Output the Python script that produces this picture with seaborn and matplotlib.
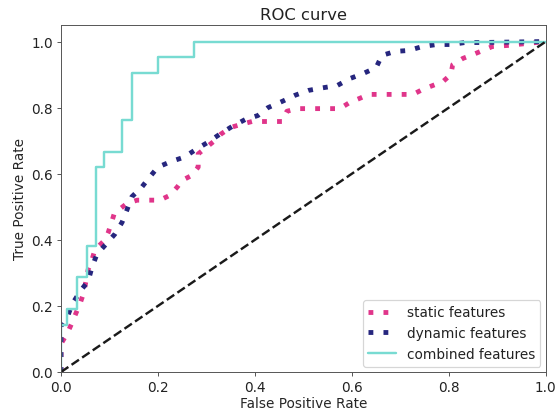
import matplotlib
matplotlib.use("Agg")
import matplotlib.pyplot as plt
import seaborn as sns

# ---- data ----
static_fpr = [0, 0, 0.002, 0.014, 0.023, 0.04, 0.047, 0.056, 0.064, 0.07, 0.091, 0.097,
              0.105, 0.11, 0.136, 0.157, 0.177, 0.204, 0.225, 0.24, 0.25, 0.27, 0.283,
              0.283, 0.30, 0.317, 0.33, 0.35, 0.373, 0.394, 0.42, 0.456, 0.466, 0.487,
              0.517, 0.548, 0.575, 0.596, 0.616, 0.635, 0.664, 0.695, 0.726, 0.746, 0.767,
              0.788, 0.804, 0.808, 0.829, 0.849, 0.87, 0.89, 0.92, 1.0]
static_tpr = [0, 0.06, 0.09, 0.12, 0.15, 0.21, 0.24, 0.31, 0.34, 0.37, 0.40, 0.42,
              0.456, 0.48, 0.51, 0.52, 0.52, 0.52, 0.535, 0.56, 0.58, 0.595, 0.62,
              0.66, 0.68, 0.70, 0.72, 0.74, 0.75, 0.758, 0.758, 0.758, 0.789, 0.797,
              0.797, 0.797, 0.797, 0.816, 0.828, 0.84, 0.84, 0.84, 0.84, 0.855, 0.867,
              0.879, 0.90, 0.93, 0.949, 0.96, 0.973, 0.985, 0.988, 1.0]

dynamic_fpr = [0, 0, 0.014, 0.023, 0.04, 0.056, 0.064, 0.074, 0.093, 0.111, 0.126, 0.136,
               0.146, 0.167, 0.183, 0.2, 0.227, 0.254, 0.28, 0.303, 0.328, 0.353, 0.38,
               0.406, 0.427, 0.458, 0.482, 0.51, 0.54, 0.57, 0.596, 0.623, 0.65, 0.662,
               0.689, 0.717, 0.746, 0.775, 0.806, 0.833, 0.864, 1.0]
dynamic_tpr = [0, 0.14, 0.17, 0.205, 0.245, 0.275, 0.317, 0.356, 0.387, 0.417, 0.453, 0.49,
               0.53, 0.56, 0.59, 0.62, 0.637, 0.65, 0.675, 0.695, 0.72, 0.743, 0.764,
               0.776, 0.80, 0.82, 0.837, 0.852, 0.86, 0.867, 0.888, 0.903, 0.921, 0.958,
               0.97, 0.973, 0.985, 0.991, 0.991, 0.997, 0.997, 1.0]

combined_fpr = [0, 0, 0.012, 0.012, 0.033, 0.033, 0.054, 0.054, 0.072, 0.072, 0.089, 0.089,
                0.126, 0.126, 0.146, 0.146, 0.2, 0.2, 0.274, 0.274, 1.0]
combined_tpr = [0, 0.143, 0.143, 0.190, 0.190, 0.286, 0.286, 0.381, 0.381, 0.619, 0.619, 0.667,
                0.667, 0.762, 0.762, 0.905, 0.905, 0.952, 0.952, 1.0, 1.0]

chance = [0, 1]

labels = ["static features", "dynamic features", "combined features"]

# ---- style ----
sns.set_style("ticks")
plt.rcParams["font.family"] = ["DejaVu Sans"]
plt.rcParams["axes.edgecolor"] = "#555555"
plt.rcParams["text.color"] = "#222222"
plt.rcParams["xtick.color"] = "#555555"
plt.rcParams["ytick.color"] = "#555555"
plt.rcParams["xtick.labelcolor"] = "#222222"
plt.rcParams["ytick.labelcolor"] = "#222222"

fs = 11.3

fig = plt.figure(figsize=(6.4, 4.77), dpi=87)
ax = fig.add_axes([61 / 557, 42 / 415, (546 - 61) / 557, (373 - 26) / 415])

sns.lineplot(x=static_fpr, y=static_tpr, sort=False, estimator=None, ax=ax,
             color="#e0358a", linestyle=(0, (1, 2.1)), linewidth=4, label=labels[0])
sns.lineplot(x=dynamic_fpr, y=dynamic_tpr, sort=False, estimator=None, ax=ax,
             color="#26267e", linestyle=(0, (1, 2.1)), linewidth=4, label=labels[1])
sns.lineplot(x=combined_fpr, y=combined_tpr, sort=False, estimator=None, ax=ax,
             color="#78dbd2", linewidth=2, label=labels[2])
sns.lineplot(x=chance, y=chance, sort=False, estimator=None, ax=ax,
             color="#1a1a1a", linestyle="--", linewidth=2)

ax.set_xlim(0.0, 1.0)
ax.set_ylim(0.0, 1.05)
ax.set_xticks([0, 0.2, 0.4, 0.6, 0.8, 1.0])
ax.set_yticks([0, 0.2, 0.4, 0.6, 0.8, 1.0])
ax.set_xlabel("False Positive Rate", fontsize=fs, labelpad=2)
ax.set_ylabel("True Positive Rate", fontsize=fs, labelpad=4)
ax.set_title("ROC curve", fontsize=13.5, pad=5)
ax.tick_params(labelsize=fs, length=3.5, direction="out", pad=3)
for s in ax.spines.values():
    s.set_visible(True)
ax.legend(loc="lower right", fontsize=fs, frameon=True, borderaxespad=0.4)

fig.savefig("out.png", dpi=87)
